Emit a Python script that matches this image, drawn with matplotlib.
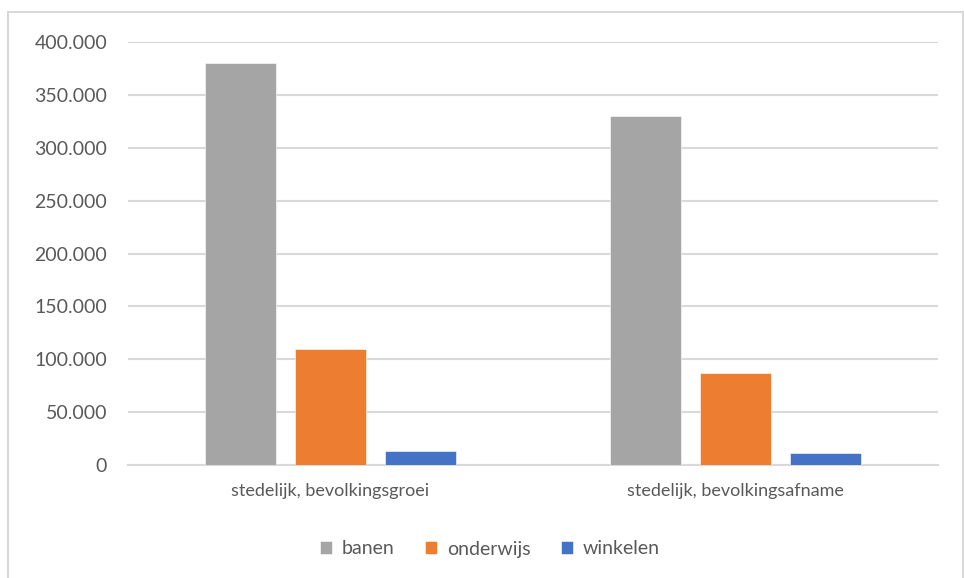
import matplotlib.pyplot as plt
import numpy as np
from matplotlib.patches import Rectangle
from matplotlib.ticker import FuncFormatter

categories = ['stedelijk, bevolkingsgroei', 'stedelijk, bevolkingsafname']
series = ['banen', 'onderwijs', 'winkelen']
banen = [380000, 330000]
onderwijs = [109500, 87000]
winkelen = [13500, 11000]
colors = ['#A5A5A5', '#ED7D31', '#4472C4']

plt.rcParams['font.family'] = ['Lato', 'DejaVu Sans']
txt = '#595959'

fig = plt.figure(figsize=(9.64, 5.78), dpi=100)
ax = fig.add_axes([0.1328, 0.1955, 0.840, 0.7318])

x = np.arange(len(categories))
width = 0.175
step = 0.222
for i, (name, vals) in enumerate(zip(series, [banen, onderwijs, winkelen])):
    ax.bar(x + (i - 1) * step, vals, width, color=colors[i], label=name,
           edgecolor='white', linewidth=0.4, zorder=3)

ax.set_xlim(-0.5, 1.5)
ax.set_ylim(0, 400000)
ax.set_yticks(np.arange(0, 400001, 50000))
ax.yaxis.set_major_formatter(FuncFormatter(lambda v, p: f'{int(v):,}'.replace(',', '.')))
ax.set_xticks(x)
ax.set_xticklabels(categories)
ax.grid(axis='y', color='#D9D9D9', linewidth=1.5, zorder=0)
for s in ['top', 'right', 'left']:
    ax.spines[s].set_visible(False)
ax.spines['bottom'].set_color('#D9D9D9')
ax.spines['bottom'].set_linewidth(1.5)
ax.tick_params(axis='both', length=0, colors=txt)
ax.tick_params(axis='y', pad=15, labelsize=14)
ax.tick_params(axis='x', pad=13, labelsize=13)

# legend centred on the whole chart area
leg = fig.legend(loc='center', bbox_to_anchor=(490 / 964, 1 - 549 / 578), ncol=3,
                 frameon=False, fontsize=14, handlelength=0.6, handleheight=0.6,
                 columnspacing=1.6, handletextpad=0.5)
for t in leg.get_texts():
    t.set_color(txt)

# chart area border
fig.patches.append(Rectangle((8 / 964, -0.01), 955 / 964, 1 - 12 / 578 + 0.01,
                             transform=fig.transFigure, fill=False,
                             edgecolor='#D9D9D9', linewidth=1.5))

fig.savefig('out.png', dpi=100)
